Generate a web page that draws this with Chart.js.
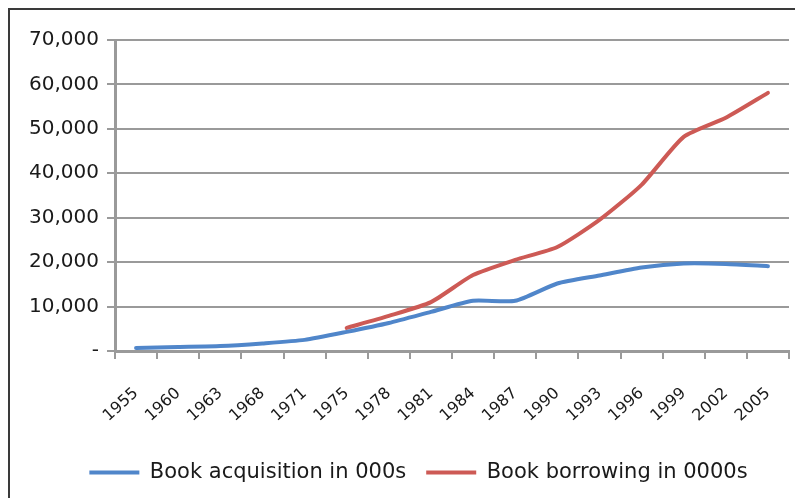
<!DOCTYPE html>
<html>
<head>
<meta charset="utf-8">
<script src="https://cdn.jsdelivr.net/npm/chart.js@4"></script>
<style>
  html, body { margin: 0; padding: 0; background: #fff; }
  #wrap { position: relative; width: 795px; height: 498px; overflow: hidden; }
  #frame { position: absolute; left: 8px; top: 8px; width: 900px; height: 600px; border: 2px solid #3a3a3a; box-sizing: border-box; }
  canvas { position: absolute; left: 0; top: 0; }
</style>
</head>
<body>
<div id="wrap">
  <div id="frame"></div>
  <canvas id="c" width="795" height="498"></canvas>
</div>
<script>
const years = ['1955','1960','1963','1968','1971','1975','1978','1981','1984','1987','1990','1993','1996','1999','2002','2005'];
const acquisition = [700, 900, 1100, 1700, 2500, 4300, 6300, 8800, 11300, 11300, 15200, 17000, 18800, 19700, 19600, 19100];
const borrowing = [null, null, null, null, null, 5200, 7900, 11000, 17100, 20500, 23400, 29500, 37400, 48200, 52500, 58100];
const yTicks = [0, 10000, 20000, 30000, 40000, 50000, 60000, 70000];
const seriesNames = ['Book acquisition in 000s', 'Book borrowing in 0000s'];

const FONT = 'DejaVu Sans';
const GRID = '#9a9a9a';

// shift the legend row to the right so it is centred like the reference
const legendShift = {
  id: 'legendShift',
  afterLayout(chart) {
    if (chart.legend) { chart.legend.left += 24; chart.legend.right += 24; }
  }
};

new Chart(document.getElementById('c'), {
  type: 'line',
  data: {
    labels: years,
    datasets: [
      { label: seriesNames[0], data: acquisition, borderColor: '#5086CA', backgroundColor: '#5086CA',
        borderWidth: 4, pointRadius: 0, tension: 0.2, borderCapStyle: 'round', borderJoinStyle: 'round' },
      { label: seriesNames[1], data: borrowing, borderColor: '#CD5A55', backgroundColor: '#CD5A55',
        borderWidth: 4, pointRadius: 0, tension: 0.2, borderCapStyle: 'round', borderJoinStyle: 'round', spanGaps: false }
    ]
  },
  plugins: [legendShift],
  options: {
    responsive: false,
    animation: false,
    layout: { padding: { left: 0, right: 6, top: 40, bottom: 5 } },
    plugins: {
      tooltip: { enabled: false },
      legend: {
        position: 'bottom',
        labels: {
          font: { family: FONT, size: 21 },
          color: '#1a1a1a',
          usePointStyle: true,
          pointStyle: 'line',
          pointStyleWidth: 50,
          padding: 20
        }
      }
    },
    scales: {
      x: {
        offset: true,
        grid: { display: true, offset: true, drawOnChartArea: false, drawTicks: true, tickLength: 8, color: GRID, lineWidth: 2 },
        border: { display: true, color: GRID, width: 3 },
        ticks: { font: { family: FONT, size: 16 }, color: '#1a1a1a', minRotation: 42, maxRotation: 42, autoSkip: false, padding: 25 },
        afterFit: (s) => { s.height = 91; s.paddingRight = 0; s.paddingLeft = 0; }
      },
      y: {
        min: 0, max: 70000,
        afterBuildTicks: (s) => { s.ticks = yTicks.map(v => ({ value: v })); },
        grid: { color: GRID, lineWidth: 2, tickLength: 8, drawTicks: true },
        border: { display: true, color: GRID, width: 3 },
        ticks: {
          font: { family: FONT, size: 20 }, color: '#1a1a1a', padding: 8,
          callback: (v) => v === 0 ? '-' : v.toLocaleString('en-US')
        },
        afterFit: (s) => { s.width = 115; }
      }
    }
  }
});
</script>
</body>
</html>
